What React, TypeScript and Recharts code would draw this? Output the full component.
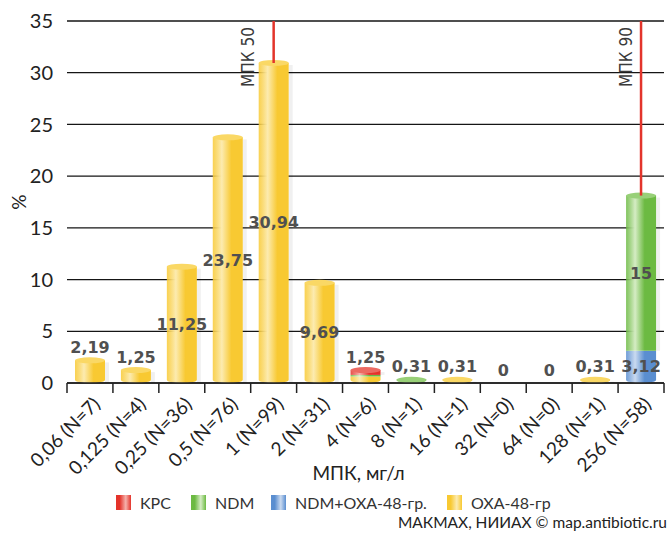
import React from 'react';
import { BarChart, Bar, XAxis, YAxis, CartesianGrid, LabelList, ReferenceLine } from 'recharts';

// ---- data ----
const categories = [
  '0,06 (N=7)', '0,125 (N=4)', '0,25 (N=36)', '0,5 (N=76)', '1 (N=99)', '2 (N=31)',
  '4 (N=6)', '8 (N=1)', '16 (N=1)', '32 (N=0)', '64 (N=0)', '128 (N=1)', '256 (N=58)',
];
const oxa48 = [2.19, 1.25, 11.25, 23.75, 30.94, 9.69, 0.63, 0, 0.31, 0, 0, 0.31, 0];
const ndmOxa48 = [0, 0, 0, 0, 0, 0, 0, 0, 0, 0, 0, 0, 3.12];
const ndm = [0, 0, 0, 0, 0, 0, 0.15, 0.31, 0, 0, 0, 0, 15];
const kpc = [0, 0, 0, 0, 0, 0, 0.47, 0, 0, 0, 0, 0, 0];
const yTicks = [0, 5, 10, 15, 20, 25, 30, 35];
const mpk50Category = '1 (N=99)';
const mpk90Category = '256 (N=58)';

const seriesKeys = ['oxa', 'ndmOxa', 'ndm', 'kpc'];
const seriesNames: Record<string, string> = {
  kpc: 'KPC', ndm: 'NDM', ndmOxa: 'NDM+OXA-48-гр.', oxa: 'OXA-48-гр',
};
const legendOrder = ['kpc', 'ndm', 'ndmOxa', 'oxa'];

const data = categories.map((cat, i) => {
  const total = Math.round((oxa48[i] + ndmOxa48[i] + ndm[i] + kpc[i]) * 100) / 100;
  return { cat, oxa: oxa48[i], ndmOxa: ndmOxa48[i], ndm: ndm[i], kpc: kpc[i], total };
});

// ---- styles ----
const COLORS: Record<string, { base: string; light: string; cap: string }> = {
  oxa: { base: '#F8C932', light: '#FCEBB0', cap: '#FAD865' },
  ndmOxa: { base: '#5A8ED0', light: '#CADAF0', cap: '#8AAEE0' },
  ndm: { base: '#6CBA42', light: '#D5ECC4', cap: '#98D078' },
  kpc: { base: '#E4332A', light: '#F5B2AC', cap: '#EC6A62' },
};

const CHART_W = 670;
const CHART_H = 534;
const MARGIN = { top: 21, right: 6, left: 7, bottom: 0 };
const Y_AXIS_W = 60;
const X_AXIS_H = CHART_H - 383;
const HALF_BAND = (CHART_W - MARGIN.left - MARGIN.right - Y_AXIS_W) / categories.length / 2;

const FONT = 'Lato, "DejaVu Sans", sans-serif';
const valueStyle: React.CSSProperties = {
  fontFamily: '"DejaVu Sans", sans-serif',
  fontWeight: 700,
  fontSize: 16,
  fill: '#505050',
};

const fmt = (v: number) => (Number.isInteger(v) ? String(v) : v.toFixed(2).replace('.', ','));

const makeShape = (key: string) => (props: any) => {
  const { x, y, width, height, payload } = props;
  if (!payload || !(payload[key] > 0) || !(height > 0)) return null;
  const nonzero = seriesKeys.filter((k) => payload[k] > 0);
  const isTop = nonzero[nonzero.length - 1] === key;
  const isBottom = nonzero[0] === key;
  const rx = width / 2;
  const ry = 3;
  const bottom = y + height;
  let d: string;
  if (isBottom) {
    const by = Math.max(y, bottom - ry);
    d = `M${x},${y} L${x},${by} A${rx},${ry} 0 0 0 ${x + width},${by} L${x + width},${y} Z`;
  } else {
    d = `M${x},${y} L${x},${bottom} L${x + width},${bottom} L${x + width},${y} Z`;
  }
  return (
    <g>
      {isTop && (
        <rect x={x + width} y={y + 2} width={4} height={Math.max(0, bottom - y - 2)} fill="#000" opacity={0.06} />
      )}
      <path d={d} fill={`url(#grad-${key})`} />
      {isTop && <ellipse cx={x + rx} cy={y} rx={rx} ry={ry} fill={COLORS[key].cap} />}
    </g>
  );
};

const insideLabel = (key: string) => (props: any) => {
  const { x, y, width, height, index } = props;
  const d: any = data[index];
  if (!d || d.total < 5 || !(d[key] > 0)) return null;
  return (
    <text x={x + width / 2} y={y + height / 2} textAnchor="middle" dominantBaseline="central" style={valueStyle}>
      {fmt(d[key])}
    </text>
  );
};

const topLabel = (props: any) => {
  const { x, y, width, index } = props;
  const d: any = data[index];
  if (!d || d.total >= 5) return null;
  return (
    <text x={x + width / 2} y={y - 13} textAnchor="middle" dominantBaseline="central" style={valueStyle}>
      {fmt(d.total)}
    </text>
  );
};

const XTick = (props: any) => {
  const { x, y, payload, index } = props;
  const last = index === categories.length - 1;
  const ax = x + 6;
  const ay = y + 17;
  return (
    <g>
      <line x1={x - HALF_BAND} x2={x - HALF_BAND} y1={y} y2={y + 10} stroke="#222" strokeWidth={1.5} />
      {last && <line x1={x + HALF_BAND} x2={x + HALF_BAND} y1={y} y2={y + 10} stroke="#222" strokeWidth={1.5} />}
      <text
        x={ax}
        y={ay}
        transform={`rotate(-45, ${ax}, ${ay})`}
        textAnchor="end"
        dominantBaseline="central"
        style={{ fontFamily: FONT, fontSize: 19, fill: '#222' }}
      >
        {payload.value}
      </text>
    </g>
  );
};

const MpkLabel = (props: any) => {
  const { viewBox, text, gap } = props;
  if (!viewBox) return null;
  const lx = viewBox.x;
  const top = Math.min(viewBox.y, viewBox.y + (viewBox.height || 0));
  const ax = lx - gap;
  const ay = top + 6;
  return (
    <text
      x={ax}
      y={ay}
      transform={`rotate(-90, ${ax}, ${ay})`}
      textAnchor="end"
      style={{ fontFamily: '"DejaVu Sans Condensed", "DejaVu Sans", sans-serif', fontSize: 17, fill: '#3a3a3a' }}
    >
      {text}
    </text>
  );
};

const total50 = data.find((d) => d.cat === mpk50Category)!.total;
const total90 = data.find((d) => d.cat === mpk90Category)!.total;

export default function App() {
  return (
    <div style={{ position: 'absolute', left: 0, top: 0, width: CHART_W, height: CHART_H, background: '#fff' }}>
      <BarChart width={CHART_W} height={CHART_H} data={data} margin={MARGIN} barSize={30}>
        <defs>
          {seriesKeys.map((k) => (
            <linearGradient key={k} id={`grad-${k}`} x1="0" y1="0" x2="1" y2="0">
              <stop offset="0%" stopColor={COLORS[k].base} stopOpacity={0.85} />
              <stop offset="30%" stopColor={COLORS[k].light} />
              <stop offset="62%" stopColor={COLORS[k].base} />
              <stop offset="100%" stopColor={COLORS[k].base} />
            </linearGradient>
          ))}
        </defs>
        <CartesianGrid vertical={false} stroke="#151515" strokeWidth={1.3} />
        <XAxis
          dataKey="cat"
          interval={0}
          height={X_AXIS_H}
          tickSize={0}
          tickMargin={0}
          tickLine={false}
          axisLine={{ stroke: '#222', strokeWidth: 1.5 }}
          tick={<XTick />}
          label={{
            content: (p: any) => {
              const vb = p.viewBox;
              if (!vb) return null;
              return (
                <text
                  x={vb.x + vb.width / 2 - 7}
                  y={vb.y + 89}
                  textAnchor="middle"
                  dominantBaseline="central"
                  style={{ fontFamily: FONT, fontSize: 19, fill: '#222' }}
                >
                  МПК, мг/л
                </text>
              );
            },
          }}
        />
        <YAxis
          width={Y_AXIS_W}
          domain={[0, 35]}
          ticks={yTicks}
          interval={0}
          axisLine={false}
          tickLine={false}
          tickMargin={8}
          tick={{ fontFamily: FONT, fontSize: 20, fill: '#222' }}
          label={{
            content: (p: any) => {
              const vb = p.viewBox;
              if (!vb) return null;
              const cx = vb.x + 11;
              const cy = vb.y + vb.height / 2;
              return (
                <text
                  x={cx}
                  y={cy}
                  transform={`rotate(-90, ${cx}, ${cy})`}
                  textAnchor="middle"
                  dominantBaseline="central"
                  style={{ fontFamily: FONT, fontSize: 19, fill: '#222' }}
                >
                  %
                </text>
              );
            },
          }}
        />
        {seriesKeys.map((k) => (
          <Bar
            key={k}
            dataKey={k}
            stackId="s"
            name={seriesNames[k]}
            fill={COLORS[k].base}
            isAnimationActive={false}
            shape={makeShape(k)}
          >
            <LabelList dataKey={k} content={insideLabel(k)} />
            {k === 'kpc' && <LabelList dataKey="total" content={topLabel} />}
          </Bar>
        ))}
        <ReferenceLine
          segment={[{ x: mpk50Category, y: 35 }, { x: mpk50Category, y: total50 }]}
          stroke="#E3342B"
          strokeWidth={2.5}
          label={<MpkLabel text="МПК 50" gap={20} />}
        />
        <ReferenceLine
          segment={[{ x: mpk90Category, y: 35 }, { x: mpk90Category, y: total90 }]}
          stroke="#E3342B"
          strokeWidth={2.5}
          label={<MpkLabel text="МПК 90" gap={9} />}
        />
      </BarChart>
      {legendOrder.map((k, i) => (
        <div
          key={k}
          style={{
            position: 'absolute',
            left: [116, 191, 271, 447][i],
            top: 494,
            height: 16,
            display: 'flex',
            alignItems: 'center',
            fontFamily: FONT,
            fontSize: 16,
            color: '#333',
            whiteSpace: 'nowrap',
          }}
        >
          <span
            style={{
              display: 'inline-block',
              width: 15,
              height: 15,
              marginRight: 9,
              background: `linear-gradient(90deg, ${COLORS[k].base} 0%, ${COLORS[k].base} 25%, ${COLORS[k].light} 65%, ${COLORS[k].base} 100%)`,
            }}
          />
          {seriesNames[k]}
        </div>
      ))}
      <div
        style={{
          position: 'absolute',
          right: 3,
          top: 513,
          fontFamily: FONT,
          fontSize: 15.5,
          lineHeight: '18px',
          color: '#222',
          whiteSpace: 'nowrap',
        }}
      >
        МАКМАХ, НИИАХ © map.antibiotic.ru
      </div>
    </div>
  );
}
